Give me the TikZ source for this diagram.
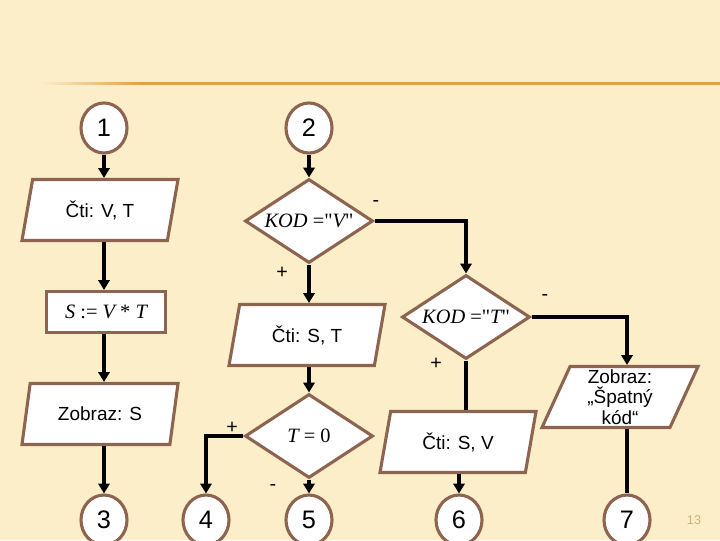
\documentclass[tikz,border=0pt]{standalone}
\usepackage{fontspec}
\setmainfont{Liberation Sans}
\newfontfamily\timesfont{Liberation Serif}
\usetikzlibrary{positioning, arrows.meta, shapes.geometric, calc}
\definecolor{bgcream}{RGB}{251,238,200}
\definecolor{edgebrown}{RGB}{140,100,80}
\definecolor{lineorange}{RGB}{224,162,72}
\definecolor{pagegold}{RGB}{214,176,112}

\begin{document}
\begin{tikzpicture}[
    x=0.025cm, y=-0.025cm,
    term/.style={ellipse, draw=edgebrown, line width=2.2pt, fill=white, minimum width=1.15cm, minimum height=1.25cm, inner sep=0pt, font=\fontsize{18}{20}\selectfont},
    io/.style={trapezium, trapezium left angle=64, trapezium right angle=116, trapezium stretches body, draw=edgebrown, line width=2.2pt, fill=white, minimum width=3.9cm, minimum height=1.525cm, inner sep=1pt, align=center, font=\fontsize{13.5}{14.5}\selectfont},
    proc/.style={rectangle, draw=edgebrown, line width=2.2pt, fill=white, minimum width=2.975cm, minimum height=1.025cm, font=\timesfont\fontsize{14.5}{16}\selectfont},
    dec/.style={diamond, aspect=1.5, draw=edgebrown, line width=2.2pt, fill=white, minimum width=3.2cm, minimum height=2.1cm, inner sep=0pt, font=\timesfont\fontsize{14.5}{16}\selectfont},
    arr/.style={-{Triangle[length=7pt, width=8pt]}, line width=2.4pt, black},
    ln/.style={line width=2.4pt, black},
    lab/.style={font=\fontsize{14}{15}\selectfont}
]
    % background
    \fill[bgcream] (0,0) rectangle (720,540);
    \useasboundingbox (0,0) rectangle (720,540);
    \shade[left color=bgcream, right color=lineorange] (40,82) rectangle (140,84.5);
    \fill[lineorange] (140,82) rectangle (720,84.5);

    % column 1
    \node[term] (t1) at (104,128) {1};
    \node[io] (readvt) at (100,210) {Čti: V, T};
    \node[proc] (calcs) at (106,312) {\itshape S\upshape\ :=\ \itshape V\upshape\ *\ \itshape T};
    \node[io] (shows) at (100,414) {Zobraz: S};
    \node[term] (t3) at (104,520) {3};

    % column 2
    \node[term] (t2) at (309,128) {2};
    \node[dec] (cond1) at (309,221) {\itshape KOD\upshape\ ="\itshape V\upshape"};
    \node[io] (readst) at (307,335) {Čti: S, T};
    \node[dec] (cond3) at (309,436) {\itshape T\upshape\ = 0};
    \node[term] (t4) at (206,520) {4};
    \node[term] (t5) at (309,520) {5};

    % column 3
    \node[dec] (cond2) at (466,317) {\itshape KOD\upshape\ ="\itshape T\upshape"};
    \node[io] (readsv) at (458,442) {Čti: S, V};
    \node[term] (t6) at (459,520) {6};
    \node[io] (showerr) at (620,397) {Zobraz:\\„Špatný\\kód“};
    \node[term] (t7) at (627,520) {7};

    \node[font=\fontsize{9}{10}\selectfont, text=pagegold] (pg) at (694,520) {13};

    \draw[arr] (t1) -- (t1 |- readvt.north);
    \draw[arr] (t1 |- readvt.south) -- (t1 |- calcs.north);
    \draw[arr] (t1 |- calcs.south) -- (t1 |- shows.north);
    \draw[arr] (t1 |- shows.south) -- (t3);

    \draw[arr] (t2) -- (cond1);
    \draw[arr] (cond1.south) -- (cond1 |- readst.north);
    \draw[arr] (cond1 |- readst.south) -- (cond3.north);
    \draw[arr] (cond3.south) -- (t5);
    \draw[arr] (cond3.west) -| (t4);

    \draw[arr] (cond1.east) -| (cond2.north);
    \draw[arr] (cond2.east) -| (t7 |- showerr.north);
    \draw[ln] (cond2.south) -- (cond2 |- readsv.north);
    \draw[arr] (t6 |- readsv.south) -- (t6);
    \draw[ln] (t7 |- showerr.south) -- (t7);

    % branch labels
    \node[lab] (p1) at (282,273) {+};
    \node[lab] (m1) at (376,203) {-};
    \node[lab] (m2) at (545,297) {-};
    \node[lab] (p2) at (436,364) {+};
    \node[lab] (p3) at (232,428) {+};
    \node[lab] (m3) at (273,487) {-};
\end{tikzpicture}
\end{document}
